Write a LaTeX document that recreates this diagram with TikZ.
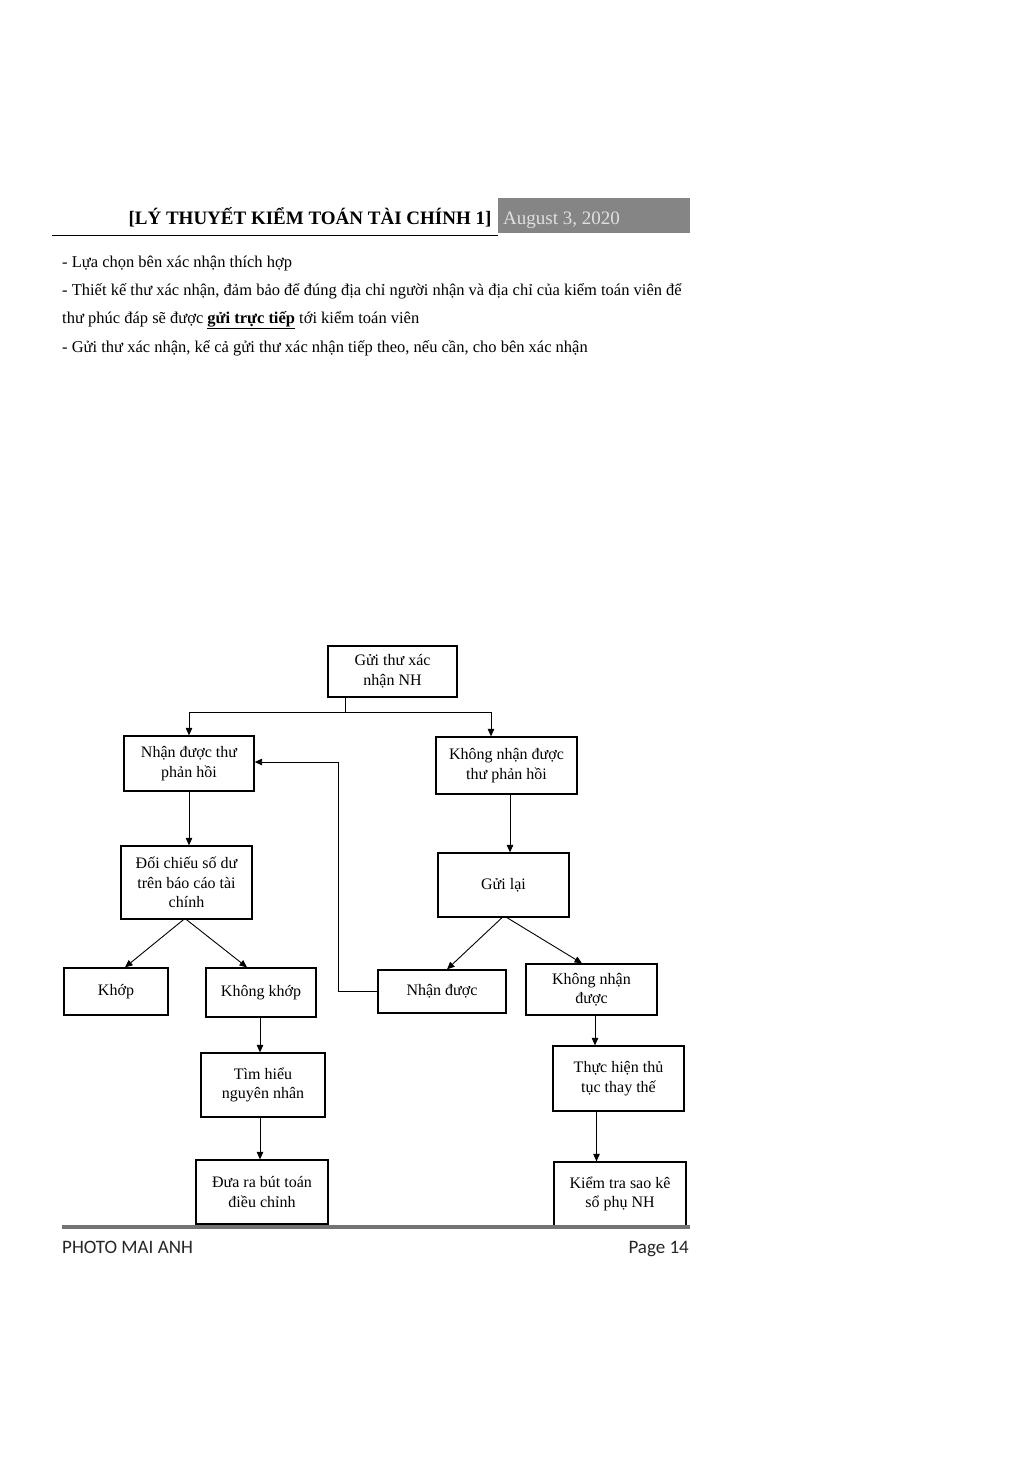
\documentclass[tikz,border=0pt]{standalone}
\usepackage{fontspec}
\setmainfont{Liberation Serif}
\newfontfamily\footfont{Carlito}
\usetikzlibrary{arrows.meta}
\begin{document}
\begin{tikzpicture}[x=1pt,y=-1pt,
  fbox/.style={draw=black,line width=1.3pt,inner sep=0pt,align=center,
    font=\fontsize{16}{19.5}\selectfont},
  conn/.style={draw=black,line width=0.9pt},
  arr/.style={conn,-{Triangle[length=7.5pt,width=6.5pt]}},
  bodytxt/.style={anchor=base west,inner sep=0pt,font=\fontsize{16.5}{20}\selectfont}
]
\useasboundingbox[fill=white] (0,0) rectangle (1033,1459);

% header
\node[anchor=base,inner sep=0pt,font=\fontsize{19}{22}\selectfont\bfseries] (title) at (310,224) {[LÝ THUYẾT KIỂM TOÁN TÀI CHÍNH 1]};
\node[fill=black!48,minimum width=192,minimum height=35,inner sep=0pt] (datebox) at (594,215.5) {};
\node[anchor=base west,inner sep=0pt,text=white!88!black,font=\fontsize{19}{22}\selectfont] (date) at (503,224) {August 3, 2020};
\coordinate (hl) at (52,235);
\draw[line width=0.8pt] (hl) -- (hl -| datebox.west);

% body text
\node[bodytxt] (t1) at (62,267) {- Lựa chọn bên xác nhận thích hợp};
\node[bodytxt] (t2) at (62,295) {- Thiết kế thư xác nhận, đảm bảo để đúng địa chỉ người nhận và địa chỉ của kiểm toán viên để};
\node[bodytxt] (t3) at (62,323) {thư phúc đáp sẽ được \underline{\textbf{gửi trực tiếp}} tới kiểm toán viên};
\node[bodytxt] (t4) at (62,352) {- Gửi thư xác nhận, kể cả gửi thư xác nhận tiếp theo, nếu cần, cho bên xác nhận};

% flowchart boxes
\node[fbox,minimum width=129,minimum height=51] (b1) at (392.5,671.5) {Gửi thư xác\\nhận NH};
\node[fbox,minimum width=130,minimum height=55] (b2) at (189,763.5) {Nhận được thư\\phản hồi};
\node[fbox,minimum width=141,minimum height=57] (b3) at (506.5,765.5) {Không nhận được\\thư phản hồi};
\node[fbox,minimum width=131,minimum height=73] (b4) at (186.5,882.5) {Đối chiếu số dư\\trên báo cáo tài\\chính};
\node[fbox,minimum width=131,minimum height=64] (b5) at (503.5,885) {Gửi lại};
\node[fbox,minimum width=104,minimum height=47] (b6) at (116,991.5) {Khớp};
\node[fbox,minimum width=110,minimum height=49] (b7) at (261,992.5) {Không khớp};
\node[fbox,minimum width=128,minimum height=43] (b8) at (442,991.5) {Nhận được};
\node[fbox,minimum width=131,minimum height=51] (b9) at (591.5,989.5) {Không nhận\\được};
\node[fbox,minimum width=124,minimum height=64] (b10) at (263,1085) {Tìm hiểu\\nguyên nhân};
\node[fbox,minimum width=131,minimum height=65] (b11) at (618.5,1078.5) {Thực hiện thủ\\tục thay thế};
\node[fbox,minimum width=132,minimum height=64] (b12) at (262,1192) {Đưa ra bút toán\\điều chỉnh};
\node[fbox,minimum width=132,minimum height=64] (b13) at (620,1194) {Kiểm tra sao kê\\sổ phụ NH};

% connectors
\coordinate (j1) at (345,712);
\coordinate (jl) at (189,712);
\coordinate (jr) at (491,712);
\draw[conn] (b1.south -| j1) -- (j1);
\draw[conn] (jl) -- (jr);
\draw[arr] (jl) -- (jl |- b2.north);
\draw[arr] (jr) -- (jr |- b3.north);

\coordinate (fb) at (338,762);
\draw[arr] (b8.west) -| (fb) -- (fb -| b2.east);

\draw[arr] (b2.south) -- (b2.south |- b4.north);
\draw[arr] ([xshift=3.5pt]b3.south) -- ([xshift=3.5pt]b3.south |- b5.north);

\draw[arr] ([xshift=-3pt]b4.south) -- ([xshift=9pt]b6.north);
\draw[arr] ([xshift=0pt]b4.south) -- ([xshift=-14pt]b7.north);
\draw[arr] ([xshift=-1.5pt]b5.south) -- ([xshift=5pt]b8.north);
\draw[arr] ([xshift=3.5pt]b5.south) -- ([xshift=-9.5pt]b9.north);

\draw[arr] ([xshift=-1pt]b7.south) -- ([xshift=-1pt]b7.south |- b10.north);
\draw[arr] ([xshift=-3pt]b10.south) -- ([xshift=-3pt]b10.south |- b12.north);
\draw[arr] ([xshift=3.5pt]b9.south) -- ([xshift=3.5pt]b9.south |- b11.north);
\draw[arr] ([xshift=-22pt]b11.south) -- ([xshift=-22pt]b11.south |- b13.north);

% footer
\coordinate (fl) at (62,1227);
\coordinate (fr) at (690,1227);
\draw[line width=3.5pt,black!55] (fl) -- (fr);
\node[anchor=base west,inner sep=0pt,font=\footfont\fontsize{19}{22}\selectfont,text=black!85] (foot1) at (62,1253) {PHOTO MAI ANH};
\node[anchor=base east,inner sep=0pt,font=\footfont\fontsize{19}{22}\selectfont,text=black!85] (foot2) at (689,1253) {Page 14};
\end{tikzpicture}
\end{document}
